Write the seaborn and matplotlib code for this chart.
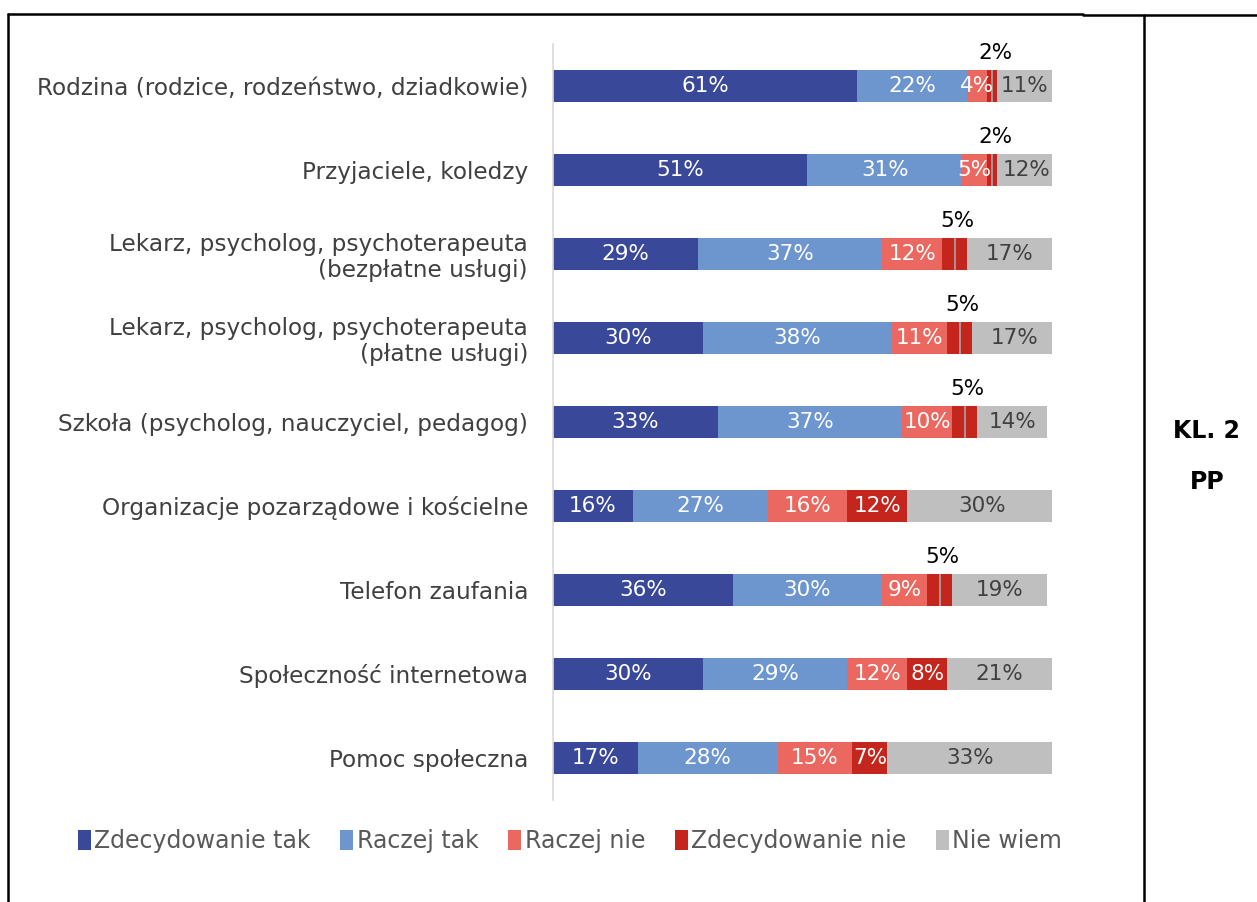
import matplotlib
matplotlib.use("Agg")
import matplotlib.pyplot as plt
import seaborn as sns
import pandas as pd
from matplotlib.patches import Patch
from matplotlib.lines import Line2D

categories = [
    "Rodzina (rodzice, rodzeństwo, dziadkowie)",
    "Przyjaciele, koledzy",
    "Lekarz, psycholog, psychoterapeuta\n(bezpłatne usługi)",
    "Lekarz, psycholog, psychoterapeuta\n(płatne usługi)",
    "Szkoła (psycholog, nauczyciel, pedagog)",
    "Organizacje pozarządowe i kościelne",
    "Telefon zaufania",
    "Społeczność internetowa",
    "Pomoc społeczna",
]
series_names = ["Zdecydowanie tak", "Raczej tak", "Raczej nie", "Zdecydowanie nie", "Nie wiem"]
zdecydowanie_tak = [61, 51, 29, 30, 33, 16, 36, 30, 17]
raczej_tak = [22, 31, 37, 38, 37, 27, 30, 29, 28]
raczej_nie = [4, 5, 12, 11, 10, 16, 9, 12, 15]
zdecydowanie_nie = [2, 2, 5, 5, 5, 12, 5, 8, 7]
nie_wiem = [11, 12, 17, 17, 14, 30, 19, 21, 33]

colors = ["#3A4899", "#6D96CF", "#EA6860", "#C4261D", "#BFBFBF"]
label_colors = ["white", "white", "white", "white", "#404040"]

sns.set_theme(style="white")
plt.rcParams["font.family"] = ["DejaVu Sans"]

series = [zdecydowanie_tak, raczej_tak, raczej_nie, zdecydowanie_nie, nie_wiem]
df = pd.DataFrame({name: vals for name, vals in zip(series_names, series)})
df["kategoria"] = categories
cum = df[series_names].cumsum(axis=1)

W, H = 1257, 902
fig = plt.figure(figsize=(W / 100, H / 100), dpi=100)
ax = fig.add_axes([553 / W, 1 - 800 / H, (1052 - 553) / W, (800 - 44) / H])

bar_h = 0.38
# stacked bars: draw cumulative totals from the last series back to the first
for i in range(len(series_names) - 1, -1, -1):
    sns.barplot(x=cum[series_names[i]], y=df["kategoria"], orient="h", color=colors[i],
                saturation=1, width=bar_h, linewidth=0, ax=ax)

ax.set_xlim(0, 100)
ax.set_ylim(len(categories) - 0.5, -0.5)
ax.set_xlabel("")
ax.set_ylabel("")
ax.set_xticks([])
for s in ["top", "right", "bottom"]:
    ax.spines[s].set_visible(False)
ax.spines["left"].set_color("#D9D9D9")
ax.spines["left"].set_linewidth(1.2)
ax.tick_params(axis="y", length=0, pad=18, labelsize=16.7, labelcolor="#404040")
for t in ax.get_yticklabels():
    t.set_horizontalalignment("right")
    t.set_multialignment("right")
    t.set_linespacing(1.15)

# value labels
for r in range(len(categories)):
    start = 0
    for i, name in enumerate(series_names):
        v = series[i][r]
        center = start + v / 2
        if i == 3 and v <= 5:
            ax.text(center + 0.6, r - bar_h / 2 - 0.08, f"{v}%", ha="center", va="bottom",
                    fontsize=15.5, color="black")
            ax.vlines(center, r - bar_h / 2, r + bar_h / 2, color="#A6A6A6", linewidth=1.2)
        else:
            ax.text(center, r, f"{v}%", ha="center", va="center", fontsize=15.5,
                    color=label_colors[i])
        start += v

handles = [Patch(facecolor=c, edgecolor="none") for c in colors]
fig.legend(handles, series_names, loc="center", bbox_to_anchor=(570 / W, 1 - 841 / H),
           ncol=5, frameon=False, fontsize=17, handlelength=0.55, handleheight=0.9,
           handletextpad=0.15, columnspacing=1.25, labelcolor="#595959")

# side label
fig.text(1206 / W, 1 - 431 / H, "KL. 2", ha="center", va="center", fontsize=17,
         fontweight="bold", color="black")
fig.text(1207 / W, 1 - 482 / H, "PP", ha="center", va="center", fontsize=17,
         fontweight="bold", color="black")

# table frame
def fline(x0, y0, x1, y1):
    fig.add_artist(Line2D([x0 / W, x1 / W], [1 - y0 / H, 1 - y1 / H], color="black",
                          linewidth=1.8, transform=fig.transFigure))
fline(8, 14, 1083, 14)
fline(1083, 15, 1257, 15)
fline(8, 14, 8, 902)
fline(1144, 15, 1144, 902)

fig.savefig("out.png", dpi=100)
